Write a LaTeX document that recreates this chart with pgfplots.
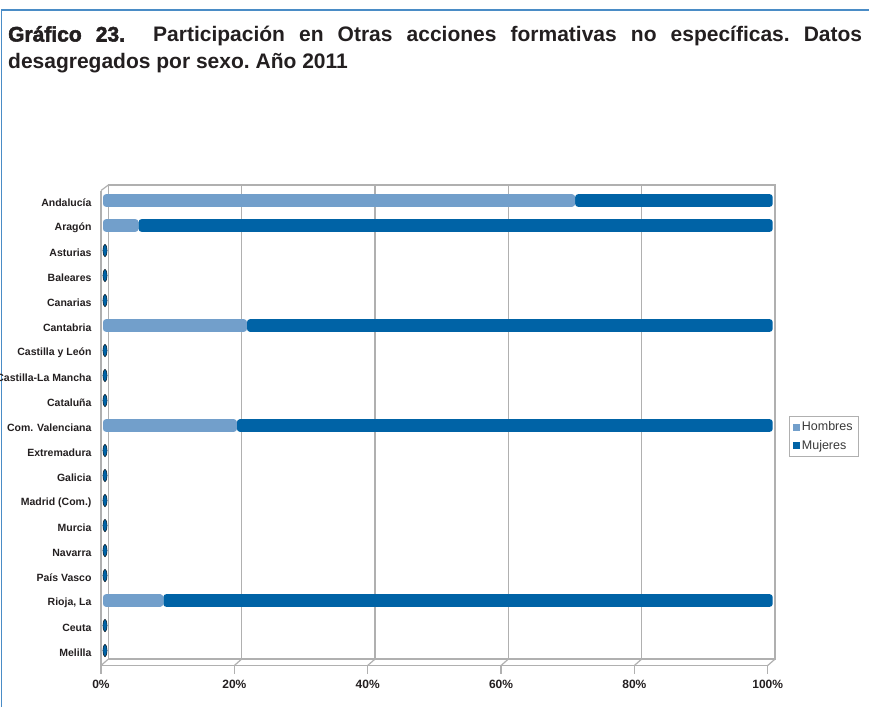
\documentclass[border=0pt]{standalone}
\usepackage{fontspec}
\setmainfont{Liberation Sans}
\newfontfamily\heavyfont[FakeBold=2.5]{Liberation Sans Bold}
\usepackage{pgfplots}
\pgfplotsset{compat=1.18}

\definecolor{hom}{HTML}{729FCB}
\definecolor{muj}{HTML}{0063A6}
\definecolor{wall}{HTML}{B0B0B0}
\definecolor{framec}{HTML}{4A8CC6}
\definecolor{txt}{HTML}{231F20}
\definecolor{legtxt}{HTML}{3A3A3A}

\begin{document}
\begin{tikzpicture}
\path[use as bounding box] (0pt,0pt) rectangle (869pt,707pt);
% marco
\draw[framec, line width=1.5pt] (1.5pt,0pt) -- (1.5pt,697pt) -- (869pt,697pt);
% titulo
\node[anchor=base west, inner sep=0pt, text width=854pt, align=justify,
      font=\fontsize{21}{27}\selectfont\bfseries, text=txt] at (8pt,665.5pt)
  {\frenchspacing{\heavyfont Gráfico 23.}\ \ Participación en Otras acciones formativas no específicas. Datos\linebreak desagregados por sexo. Año 2011};

% pared del fondo
\begin{axis}[
    at={(108.4pt,48pt)}, anchor=south west, scale only axis,
    width=666.6pt, height=474pt,
    xmin=0, xmax=100, ymin=0, ymax=1,
    axis line style={wall, line width=1.2pt},
    xtick={20,40,60,80}, xticklabels={}, ytick=\empty,
    major tick length=0pt,
    xmajorgrids, grid style={wall, line width=1.2pt},
]
\end{axis}

% barras
\begin{axis}[
    at={(103pt,44pt)}, anchor=south west, scale only axis,
    width=669.7pt, height=475pt,
    xmin=0, xmax=100, ymin=-0.5, ymax=18.5, y dir=reverse,
    hide axis, clip=false,
    xbar stacked, bar width=12.7pt,
    legend style={at={(1.0243,0.52)}, anchor=north west,
        draw=wall, line width=0.8pt, text=legtxt,
        font=\fontsize{12.5}{15}\selectfont,
        inner xsep=3.5pt, inner ysep=3.5pt, row sep=4pt},
    legend cell align=left,
]
\addplot[fill=hom, draw=none, rounded corners=3pt,
    legend image code/.code={\fill[hom, sharp corners] (0pt,-3.5pt) rectangle (7pt,3.5pt);}]
    coordinates {(70.5,0) (5.3,1) (21.5,5) (20.0,9) (9.0,16)};
\addplot[fill=muj, draw=none, rounded corners=3pt,
    legend image code/.code={\fill[muj, sharp corners] (0pt,-3.5pt) rectangle (7pt,3.5pt);}]
    coordinates {(29.5,0) (94.7,1) (78.5,5) (80.0,9) (91.0,16)};
\legend{Hombres, Mujeres}
\end{axis}

% ejes delanteros
\begin{axis}[
    at={(101pt,41.5pt)}, anchor=south west, scale only axis,
    width=666.7pt, height=475pt,
    xmin=0, xmax=100, ymin=-0.5, ymax=18.5, y dir=reverse,
    axis x line*=bottom, axis y line*=left,
    axis line style={wall, line width=1.2pt, -},
    clip=false,
    tick align=outside,
    major tick length=8pt, minor tick length=6pt,
    tick style={wall, line width=1.2pt},
    xtick={0,20,40,60,80,100},
    xticklabels={0\%,20\%,40\%,60\%,80\%,100\%},
    x tick label style={font=\fontsize{12}{14}\selectfont\bfseries, text=txt, yshift=-3pt},
    ytick={0,...,18},
    ytick style={draw=none},
    minor ytick={-0.5,0.5,...,18.5},
    yticklabels={Andalucía, Aragón, Asturias, Baleares, Canarias, Cantabria,
        Castilla y León, Castilla-La Mancha, Cataluña, Com. Valenciana,
        Extremadura, Galicia, Madrid (Com.), Murcia, Navarra, País Vasco,
        {Rioja, La}, Ceuta, Melilla},
    y tick label style={font=\fontsize{10.5}{12}\selectfont\bfseries, text=txt, xshift=2pt},
]
% barras de valor cero (solo el extremo)
\addplot[only marks, mark=*, mark size=6.3pt,
    mark options={xshift=4pt, yshift=2.5pt, xscale=0.33, fill=muj, draw=none}]
    coordinates {(0,2) (0,3) (0,4) (0,6) (0,7) (0,8) (0,10) (0,11) (0,12)
                 (0,13) (0,14) (0,15) (0,17) (0,18)};
% aristas en perspectiva
\draw[wall, line width=1.2pt] (axis cs:0,-0.5) -- ++(7.4pt,5.5pt);
\draw[wall, line width=1.2pt] (axis cs:0,18.5) -- ++(7.4pt,6.5pt);
\draw[wall, line width=1.2pt] (axis cs:20,18.5) -- ++(7.4pt,6.5pt);
\draw[wall, line width=1.2pt] (axis cs:40,18.5) -- ++(7.4pt,6.5pt);
\draw[wall, line width=1.2pt] (axis cs:60,18.5) -- ++(7.4pt,6.5pt);
\draw[wall, line width=1.2pt] (axis cs:80,18.5) -- ++(7.4pt,6.5pt);
\draw[wall, line width=1.2pt] (axis cs:100,18.5) -- ++(7.4pt,6.5pt);
\end{axis}
\end{tikzpicture}
\end{document}
